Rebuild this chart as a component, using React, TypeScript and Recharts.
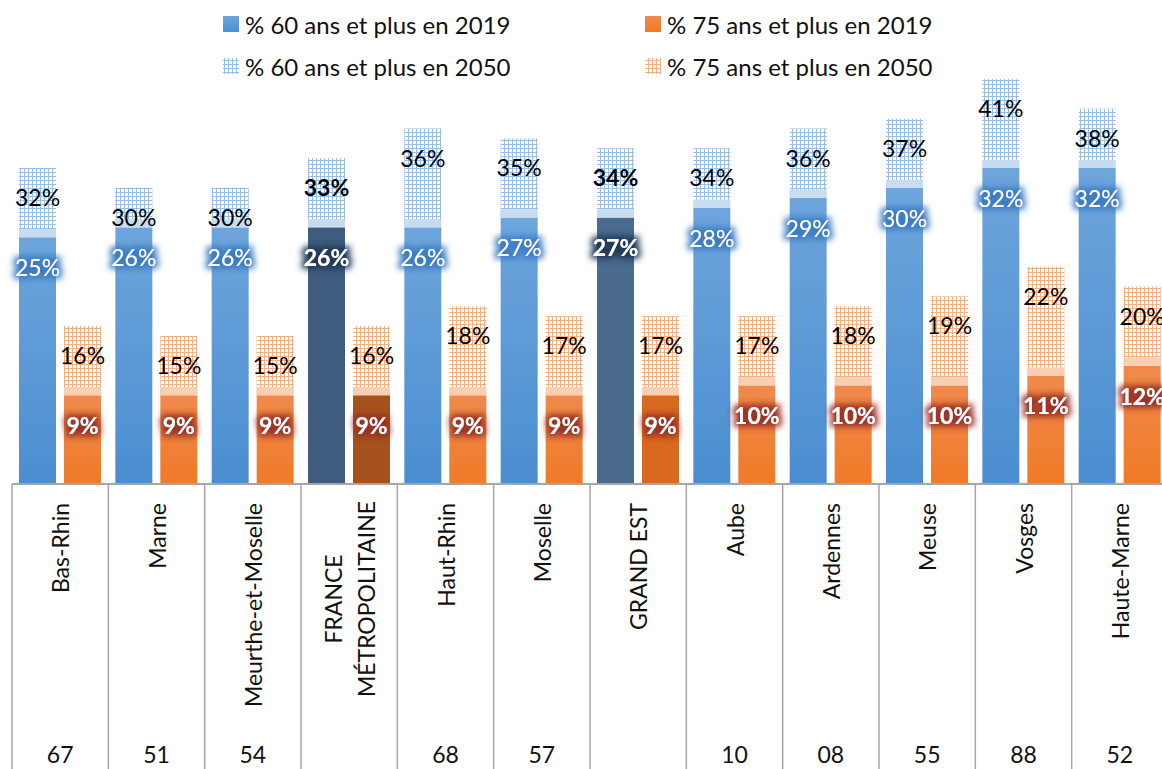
import { Bar, BarChart, Cell, LabelList, XAxis, YAxis } from "recharts"

const categories = [
  "Bas-Rhin",
  "Marne",
  "Meurthe-et-Moselle",
  "FRANCE MÉTROPOLITAINE",
  "Haut-Rhin",
  "Moselle",
  "GRAND EST",
  "Aube",
  "Ardennes",
  "Meuse",
  "Vosges",
  "Haute-Marne",
]
const deptCodes = ["67", "51", "54", "", "68", "57", "", "10", "08", "55", "88", "52"]
const pct60in2019 = [25, 26, 26, 26, 26, 27, 27, 28, 29, 30, 32, 32]
const pct60in2050 = [32, 30, 30, 33, 36, 35, 34, 34, 36, 37, 41, 38]
const pct75in2019 = [9, 9, 9, 9, 9, 9, 9, 10, 10, 10, 11, 12]
const pct75in2050 = [16, 15, 15, 16, 18, 17, 17, 17, 18, 19, 22, 20]
const aggregates = ["FRANCE MÉTROPOLITAINE", "GRAND EST"]

const data = categories.map((name, i) => ({
  name,
  code: deptCodes[i],
  a60: pct60in2019[i],
  d60: pct60in2050[i] - pct60in2019[i],
  t60: pct60in2050[i],
  a75: pct75in2019[i],
  d75: pct75in2050[i] - pct75in2019[i],
  t75: pct75in2050[i],
}))

const FONT = "Lato, 'Noto Sans', sans-serif"
const W = 1170
const H = 780
const M = { top: 10, right: 2, left: 12, bottom: 0 }
const AXIS_H = 296
const STEP = (W - M.left - M.right) / categories.length
const GRID = "#A6A6A6"

const isAgg = (i: number) => aggregates.includes(categories[i])

const blueFill = (i: number) =>
  categories[i] === "FRANCE MÉTROPOLITAINE" ? "#3F5B7D" : categories[i] === "GRAND EST" ? "#4A6A8E" : "url(#gBlue)"
const orangeFill = (i: number) =>
  categories[i] === "FRANCE MÉTROPOLITAINE" ? "#A5521C" : categories[i] === "GRAND EST" ? "#D8691F" : "url(#gOrange)"

function FutureShape(props: any, pattern: string, band: string) {
  const { x, y, width, height } = props
  if (!height || height <= 0) return <g />
  const bh = Math.min(8, height)
  return (
    <g>
      <rect x={x} y={y} width={width} height={height} fill={`url(#${pattern})`} />
      <rect x={x} y={y + height - bh} width={width} height={bh} fill={band} />
    </g>
  )
}

function InnerLabel(props: any, kind: "blue" | "orange" | "future60" | "future75") {
  const { x, y, width, value, index } = props
  const agg = isAgg(index)
  const cx = x + width / 2
  const cy = y + 30
  if (kind === "future60" || kind === "future75") {
    return (
      <text x={cx} y={cy - 1} textAnchor="middle" dominantBaseline="central" fontFamily={FONT} fontSize={23}
        fontWeight={agg && kind === "future60" ? 700 : 400} fill="#000">
        {value}%
      </text>
    )
  }
  const filter =
    kind === "orange" ? "url(#glowRed)" : agg ? "url(#glowNavy)" : "url(#glowBlue)"
  return (
    <text x={cx} y={cy} textAnchor="middle" dominantBaseline="central" fontFamily={FONT} fontSize={23}
      fontWeight={kind === "orange" || agg ? 700 : 400} fill="#fff" filter={filter}>
      {value}%
    </text>
  )
}

function CategoryTick(props: any) {
  const { x, y, payload, index } = props
  const name: string = payload.value
  const code = deptCodes[index]
  const left = x - STEP / 2
  const top = y + 19
  const lines = name === "FRANCE MÉTROPOLITAINE" ? ["FRANCE", "MÉTROPOLITAINE"] : [name]
  return (
    <g>
      <line x1={left} y1={y} x2={left} y2={H} stroke={GRID} strokeWidth={1.5} />
      {index === categories.length - 1 && (
        <line x1={x + STEP / 2} y1={y} x2={x + STEP / 2} y2={H} stroke={GRID} strokeWidth={1.5} />
      )}
      {lines.length === 1 ? (
        <text transform={`translate(${x},${top}) rotate(-90)`} textAnchor="end" dominantBaseline="central"
          fontFamily={FONT} fontSize={23} fill="#111">
          {name}
        </text>
      ) : (
        <text transform={`translate(${x},${top + 96}) rotate(-90)`} textAnchor="middle" fontFamily={FONT}
          fontSize={23} fill="#111">
          <tspan x={0} y={-16} dominantBaseline="central">{lines[0]}</tspan>
          <tspan x={0} y={17} dominantBaseline="central">{lines[1]}</tspan>
        </text>
      )}
      <text x={x} y={754} textAnchor="middle" dominantBaseline="central" fontFamily={FONT} fontSize={23} fill="#111">
        {code}
      </text>
    </g>
  )
}

function Defs() {
  return (
    <svg width={0} height={0} style={{ position: "absolute" }}>
      <defs>
        <linearGradient id="gBlue" x1="0" y1="0" x2="0" y2="1">
          <stop offset="0" stopColor="#6EA5DC" />
          <stop offset="1" stopColor="#4A8ED0" />
        </linearGradient>
        <linearGradient id="gOrange" x1="0" y1="0" x2="0" y2="1">
          <stop offset="0" stopColor="#EF8A4C" />
          <stop offset="1" stopColor="#F07A27" />
        </linearGradient>
        <pattern id="pBlue" width="4" height="4" patternUnits="userSpaceOnUse">
          <rect width="4" height="4" fill="#FFFFFF" />
          <path d="M0 0.5H4M0.5 0V4" stroke="#96BEE6" strokeWidth="1" />
        </pattern>
        <pattern id="pOrange" width="4" height="4" patternUnits="userSpaceOnUse">
          <rect width="4" height="4" fill="#FFFFFF" />
          <path d="M0 0.5H4M0.5 0V4" stroke="#F4AE80" strokeWidth="1" />
        </pattern>
        {[
          ["glowBlue", "#3A7CC4"],
          ["glowNavy", "#1E3856"],
          ["glowRed", "#9A2E22"],
        ].map(([id, color]) => (
          <filter key={id} id={id} x="-40%" y="-60%" width="180%" height="220%">
            <feMorphology in="SourceAlpha" operator="dilate" radius="3" result="d" />
            <feGaussianBlur in="d" stdDeviation="3" result="b" />
            <feFlood floodColor={color} floodOpacity="0.95" />
            <feComposite in2="b" operator="in" result="g" />
            <feMerge>
              <feMergeNode in="g" />
              <feMergeNode in="SourceGraphic" />
            </feMerge>
          </filter>
        ))}
      </defs>
    </svg>
  )
}

const legendItems = [
  { label: "% 60 ans et plus en 2019", fill: "url(#gBlue)", x: 223, y: 16 },
  { label: "% 75 ans et plus en 2019", fill: "url(#gOrange)", x: 645, y: 16 },
  { label: "% 60 ans et plus en 2050", fill: "url(#pBlue)", x: 223, y: 58 },
  { label: "% 75 ans et plus en 2050", fill: "url(#pOrange)", x: 645, y: 58 },
]

function LegendOverlay() {
  return (
    <svg width={1162} height={90} style={{ position: "absolute", left: 0, top: 0, pointerEvents: "none" }}>
      {legendItems.map((it) => (
        <g key={it.label}>
          <rect x={it.x} y={it.y} width={16} height={16} fill={it.fill} />
          <text x={it.x + 22} y={it.y + 8} dominantBaseline="central" fontFamily={FONT} fontSize={24} fill="#111">
            {it.label}
          </text>
        </g>
      ))}
    </svg>
  )
}

export default function App() {
  return (
    <div style={{ position: "absolute", left: 0, top: 0, width: 1162, height: 769, overflow: "hidden", background: "#fff" }}>
      <Defs />
      <BarChart width={W} height={H} data={data} margin={M} barGap={8} barSize={37}>
        <XAxis dataKey="name" interval={0} height={AXIS_H} tickSize={0} tickMargin={0} tick={<CategoryTick />}
          axisLine={{ stroke: GRID, strokeWidth: 2 }} tickLine={false} />
        <YAxis hide domain={[0, 48]} allowDataOverflow />
        <Bar dataKey="a60" stackId="s60" isAnimationActive={false}>
          {data.map((_, i) => (
            <Cell key={i} fill={blueFill(i)} />
          ))}
          <LabelList dataKey="a60" content={(p: any) => InnerLabel(p, "blue")} />
        </Bar>
        <Bar dataKey="d60" stackId="s60" isAnimationActive={false} shape={(p: any) => FutureShape(p, "pBlue", "#C8DCF0")}>
          <LabelList dataKey="t60" content={(p: any) => InnerLabel(p, "future60")} />
        </Bar>
        <Bar dataKey="a75" stackId="s75" isAnimationActive={false}>
          {data.map((_, i) => (
            <Cell key={i} fill={orangeFill(i)} />
          ))}
          <LabelList dataKey="a75" content={(p: any) => InnerLabel(p, "orange")} />
        </Bar>
        <Bar dataKey="d75" stackId="s75" isAnimationActive={false} shape={(p: any) => FutureShape(p, "pOrange", "#F9CFB2")}>
          <LabelList dataKey="t75" content={(p: any) => InnerLabel(p, "future75")} />
        </Bar>
      </BarChart>
      <LegendOverlay />
    </div>
  )
}
